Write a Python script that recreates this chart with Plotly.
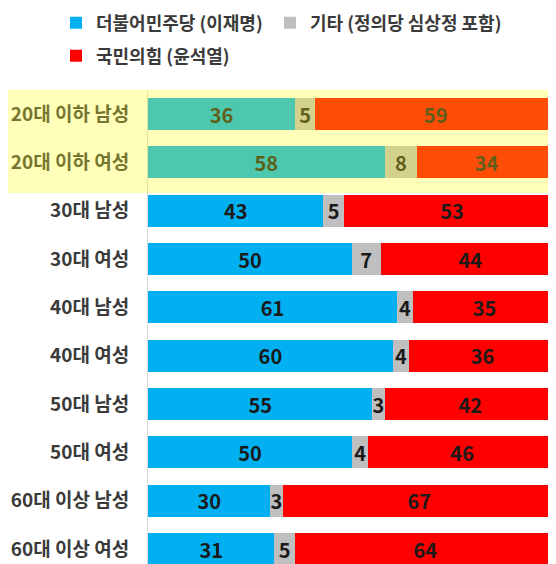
import plotly.graph_objects as go

categories = ["20대 이하 남성", "20대 이하 여성", "30대 남성", "30대 여성", "40대 남성",
              "40대 여성", "50대 남성", "50대 여성", "60대 이상 남성", "60대 이상 여성"]
democratic = [36, 58, 43, 50, 61, 60, 55, 50, 30, 31]
others = [5, 8, 5, 7, 4, 4, 3, 4, 3, 5]
ppp = [59, 34, 53, 44, 35, 36, 42, 46, 67, 64]

series_names = ["더불어민주당 (이재명)", "기타 (정의당 심상정 포함)", "국민의힘 (윤석열)"]
series_colors = ["#00B0F0", "#BFBFBF", "#FF0000"]

FONT = "Noto Sans CJK KR"
OFF = 8  # page body margin offset
W, H = 556 - OFF, 564 - OFF
ML, MR, MT, MB = 148 - OFF, 0, 90 - OFF, 0
PW, PH = W - ML - MR, H - MT - MB

def px_x(p):
    return (p - OFF - ML) / PW

legend_ids = ["legend", "legend2", "legend3"]
legend_pos = [(56, 23), (270, 23), (56, 56)]  # screen px: legend left, row center

fig = go.Figure()
for name, vals, col, lg in zip(series_names, [democratic, others, ppp], series_colors, legend_ids):
    fig.add_trace(go.Bar(
        y=categories, x=vals, orientation="h", name=name,
        marker=dict(color=col, line=dict(width=0)),
        text=[str(v) for v in vals], textposition="inside",
        insidetextanchor="middle", textangle=0,
        textfont=dict(family=FONT, size=20, color="#1a1a1a", weight="bold"),
        legend=lg,
    ))

fig.add_shape(type="rect", xref="paper", yref="y",
              x0=px_x(OFF), x1=1.0, y0=-0.5, y1=1.63,
              fillcolor="rgba(255,255,27,0.3)", line=dict(width=0), layer="above")

legend_font = dict(family=FONT, size=18, color="#3a3a3a", weight="bold")
legends = {}
for lg, (lx, ly) in zip(legend_ids, legend_pos):
    legends[lg] = dict(orientation="h", xref="container", yref="container",
                       x=(lx - OFF) / W, xanchor="left",
                       y=1 - (ly - OFF) / H, yanchor="middle",
                       font=legend_font, bgcolor="rgba(0,0,0,0)")

fig.update_layout(
    width=W, height=H, barmode="stack", bargap=0.337,
    margin=dict(l=ML, r=MR, t=MT, b=MB, autoexpand=False),
    paper_bgcolor="white", plot_bgcolor="white",
    font=dict(family=FONT, size=16, color="#404040"),
    uniformtext=dict(minsize=20, mode="show"),
    showlegend=True,
    **legends,
    xaxis=dict(range=[0, 100], visible=False, fixedrange=True),
    yaxis=dict(categoryorder="array", categoryarray=categories,
               range=[9.31, -0.5], showline=True, linecolor="#D9D9D9", linewidth=1,
               showgrid=False, ticks="", ticklabelstandoff=14,
               tickfont=dict(family=FONT, size=19, color="#3a3a3a", weight="bold")),
)

fig.write_html("out.html")
